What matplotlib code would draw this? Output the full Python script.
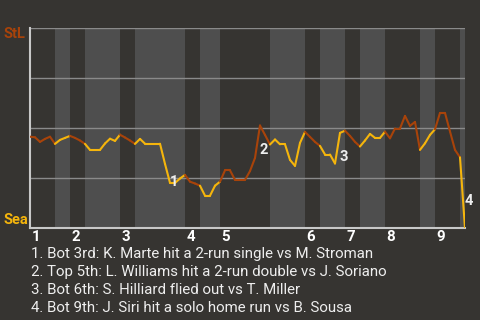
import matplotlib
matplotlib.use("Agg")
import matplotlib.pyplot as plt
import matplotlib.transforms as mtransforms
from matplotlib.collections import LineCollection

plt.rcParams["font.family"] = ["Roboto", "DejaVu Sans"]

# Probabilidad de victoria de StL (%) tras cada evento del partido
win_prob = [45.8, 45.5, 43.2, 44.7, 45.8, 42.2, 44.2, 45.2, 46.2, 45.2,
            43.9, 42.2, 39.2, 39.2, 39.2, 42.4, 44.8, 43.7, 46.8, 45.4,
            43.9, 42.2, 44.7, 42.3, 42.3, 42.3, 42.3, 32.2, 22.7, 22.7,
            24.9, 26.7, 23.3, 22.4, 21.3, 16.3, 16.3, 21.3, 23.3, 29.0,
            29.0, 24.2, 24.2, 24.2, 28.6, 35.2, 51.4, 46.7, 41.9, 44.4,
            42.0, 42.0, 34.2, 31.2, 42.7, 48.2, 45.7, 43.2, 41.2, 36.9,
            36.9, 32.4, 47.7, 48.8, 46.2, 43.2, 40.9, 43.9, 47.2, 45.2,
            45.2, 48.3, 45.0, 49.9, 49.9, 56.2, 51.2, 53.2, 39.2, 42.5,
            46.7, 49.5, 57.7, 57.7, 48.4, 39.2, 35.5, 0.0]

# Limites de cada media entrada (indice de evento): alta, baja, alta, baja...
half_bounds = [0, 5, 8, 11, 18, 21, 31, 34, 38, 48, 55, 58, 63, 66,
               71, 78, 81, 86, 87]
innings = ["1", "2", "3", "4", "5", "6", "7", "8", "9"]

# Jugadas destacadas: indice del evento final y texto
key_idx = [28, 46, 62, 87]
key_text = [
    "1. Bot 3rd: K. Marte hit a 2-run single vs M. Stroman",
    "2. Top 5th: L. Williams hit a 2-run double vs J. Soriano",
    "3. Bot 6th: S. Hilliard flied out vs T. Miller",
    "4. Bot 9th: J. Siri hit a solo home run vs B. Sousa",
]

bg = "#363431"
band = "#4e4e4e"
stl_color = "#a8430a"
sea_color = "#f5b50c"

fig = plt.figure(figsize=(4.8, 3.2), dpi=100)
fig.patch.set_facecolor(bg)
ax = fig.add_axes([30 / 480, 1 - 228.3 / 320, 435 / 480, 200 / 320])
ax.set_facecolor(bg)
ax.set_xlim(0, half_bounds[-1])
ax.set_ylim(0, 100)

# franjas claras para las bajas de cada entrada
for k in range(1, len(half_bounds) - 1, 2):
    ax.axvspan(half_bounds[k], half_bounds[k + 1], color=band, lw=0, zorder=0)

for yv in [25, 50, 75, 100]:
    ax.axhline(yv, color="#8a8a8a", lw=1, zorder=1)

# color de cada tramo segun el equipo al bate
segs = []
cols = []
for i in range(len(win_prob) - 1):
    segs.append([(i, win_prob[i]), (i + 1, win_prob[i + 1])])
    half = 0
    while half_bounds[half + 1] <= i:
        half += 1
    cols.append(stl_color if half % 2 == 0 else sea_color)
lc = LineCollection(segs, colors=cols, linewidths=1.5, capstyle="round", zorder=3)
ax.add_collection(lc)

for s in ["top", "right"]:
    ax.spines[s].set_visible(False)
for s in ["left", "bottom"]:
    ax.spines[s].set_color("#c8c8c8")
    ax.spines[s].set_linewidth(1.5)
ax.set_xticks([])
ax.set_yticks([])

# numeros de entrada debajo del eje
trans = mtransforms.blended_transform_factory(ax.transData, ax.transAxes)
for n, lab in enumerate(innings):
    ax.text(half_bounds[2 * n] + 0.3, -0.01, lab, transform=trans, ha="left",
            va="top", color="white", fontsize=10.8, fontweight="bold")

# etiquetas de jugadas sobre la linea
for n, idx in enumerate(key_idx):
    mid = (win_prob[idx - 1] + win_prob[idx]) / 2
    ax.annotate(str(n + 1), (idx, mid), xytext=(0, -1), textcoords="offset points",
                ha="left", va="top", color="#eeeeee", fontsize=10.5,
                fontweight="bold", zorder=4)

fig.text(3 / 480, 1 - 38 / 320, "StL", color=stl_color, fontsize=10.5,
         fontweight="bold", va="baseline")
fig.text(3 / 480, 1 - 224.5 / 320, "Sea", color=sea_color, fontsize=10.5,
         fontweight="bold", va="baseline")

for n, t in enumerate(key_text):
    fig.text(31 / 480, 1 - (258 + 18 * n) / 320, t, color="#eeeeee",
             fontsize=10.8, va="baseline")

fig.savefig("out.png", dpi=100, facecolor=bg)
